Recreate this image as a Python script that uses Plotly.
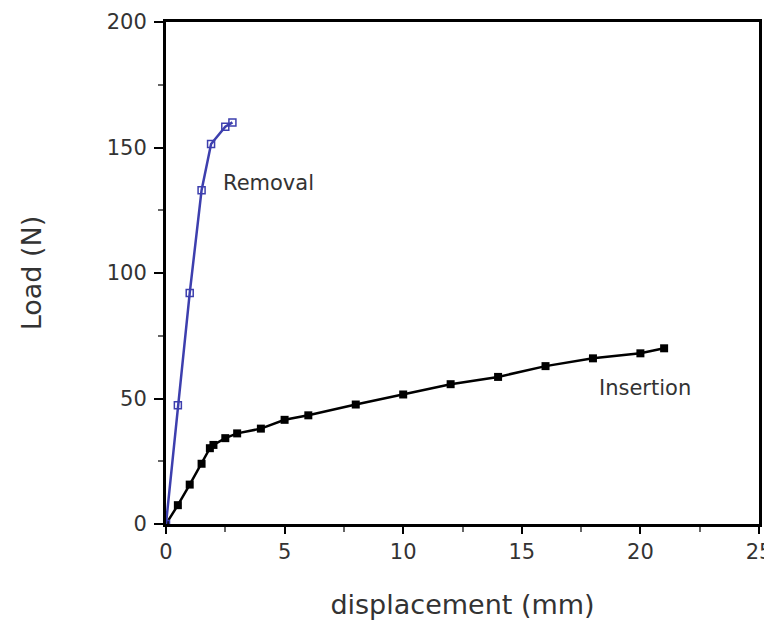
import plotly.graph_objects as go

insertion_x = [0, 0.5, 1, 1.5, 1.85, 2, 2.5, 3, 4, 5, 6, 8, 10, 12, 14, 16, 18, 20, 21]
insertion_y = [0, 7.5, 15.7, 24, 30.2, 31.5, 34.2, 36.1, 38, 41.5, 43.3, 47.6, 51.6, 55.7, 58.6, 62.9, 66, 68, 70]

removal_x = [0, 0.5, 1, 1.5, 1.9, 2.5, 2.8]
removal_y = [0, 47.3, 92, 133, 151.4, 158.3, 160]

FONT = "DejaVu Sans"
TXT = "#333333"
BLUE = "#3d3fae"

fig = go.Figure()
fig.add_trace(go.Scatter(
    x=insertion_x, y=insertion_y, mode="lines+markers", name="Insertion",
    line=dict(color="black", width=2.5),
    marker=dict(symbol="square", size=8, color="black"),
))
fig.add_trace(go.Scatter(
    x=removal_x, y=removal_y, mode="lines+markers", name="Removal",
    line=dict(color=BLUE, width=2.5),
    marker=dict(symbol="square-open", size=7, color=BLUE, line=dict(width=1.5)),
))

fig.add_annotation(x=4.3, y=136, text="Removal", showarrow=False,
                   font=dict(family=FONT, size=21, color=TXT))
fig.add_annotation(x=20.2, y=54.2, text="Insertion", showarrow=False,
                   font=dict(family=FONT, size=21, color=TXT))

axis_common = dict(
    showline=True, linewidth=3, linecolor="black", mirror=True,
    ticks="outside", tickwidth=2, tickcolor="black",
    showgrid=False, zeroline=False,
    tickfont=dict(family=FONT, size=21, color=TXT),
    ticklabeloverflow="allow",
)

fig.update_xaxes(
    range=[0, 25], tickvals=[0, 5, 10, 15, 20, 25], ticklen=7,
    minor=dict(tickvals=[2.5, 7.5, 12.5, 17.5, 22.5], ticks="outside", ticklen=5, tickwidth=1.5, tickcolor="#666666"),
    title=dict(text="displacement (mm)", font=dict(family=FONT, size=27, color=TXT), standoff=32),
    **axis_common,
)
fig.update_yaxes(
    range=[0, 200], tickvals=[0, 50, 100, 150, 200], ticklen=9,
    minor=dict(tickvals=[25, 75, 125, 175], ticks="outside", ticklen=5, tickwidth=1.5, tickcolor="#666666"),
    title=dict(text="Load (N)", font=dict(family=FONT, size=27, color=TXT), standoff=58),
    ticklabelstandoff=3,
    **axis_common,
)

fig.update_layout(
    width=772, height=622,
    margin=dict(l=158, r=21, t=14, b=106, autoexpand=False),
    paper_bgcolor="white", plot_bgcolor="white",
    showlegend=False,
)

fig.write_html("out.html")
